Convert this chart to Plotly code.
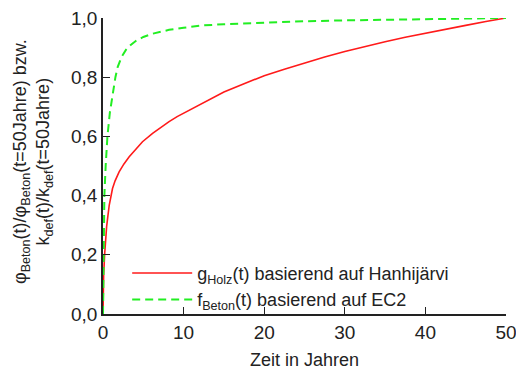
import plotly.graph_objects as go

# Holz (Hanhijärvi)
t_holz = [0, 0.01, 0.04, 0.08, 0.2, 0.3, 0.45, 0.6, 0.77, 1.18, 1.5, 2.0, 2.6, 3.25, 4.0, 4.9, 6.15, 7.1, 8.2, 9.2, 10.3,
          12.4, 15, 17.5, 20, 22.5, 25, 27.5, 30, 32.5, 35, 37.5, 40, 42.5, 45, 47.5, 50]
g_holz = [0, 0.05, 0.1, 0.13, 0.2, 0.25, 0.295, 0.33, 0.367, 0.424, 0.45, 0.48, 0.507, 0.531, 0.555, 0.582, 0.61, 0.63, 0.65, 0.667, 0.683,
          0.715, 0.75, 0.778, 0.805, 0.827, 0.848, 0.868, 0.887, 0.904, 0.92, 0.935, 0.949, 0.962, 0.975, 0.988, 1.0]

# Beton (EC2)
t_beton = [0, 0.03, 0.08, 0.17, 0.33, 0.55, 0.85, 1.24, 1.54, 1.83, 2.3, 2.86, 3.4, 4.1, 5, 6.15, 7, 8.2, 10, 12.4, 15, 17.5, 20, 25, 30, 35, 40, 45, 50]
f_beton = [0, 0.15, 0.27, 0.4, 0.5, 0.6, 0.68, 0.755, 0.8, 0.835, 0.868, 0.893, 0.908, 0.923, 0.936, 0.947, 0.953, 0.96, 0.967, 0.975, 0.979, 0.982, 0.985, 0.989, 0.992, 0.994, 0.996, 0.998, 1.0]

x_ticks = [0, 10, 20, 30, 40, 50]
y_ticks = [0.0, 0.2, 0.4, 0.6, 0.8, 1.0]

font = "Liberation Sans, Arial, sans-serif"

fig = go.Figure()
fig.add_trace(go.Scatter(x=t_holz, y=g_holz, mode="lines",
                         line=dict(color="#ff1a1a", width=1.6),
                         name="g<sub>Holz</sub>(t) basierend auf Hanhijärvi"))
fig.add_trace(go.Scatter(x=t_beton, y=f_beton, mode="lines",
                         line=dict(color="#22ee22", width=2, dash="8px,5px"),
                         name="f<sub>Beton</sub>(t) basierend auf EC2"))

fig.update_layout(
    width=516, height=371,
    margin=dict(l=103, r=10, t=18, b=57),
    paper_bgcolor="white", plot_bgcolor="white",
    separators=",.",
    font=dict(family=font, size=18, color="#222"),
    legend=dict(x=0.06, y=0.2, xanchor="left", yanchor="top", bgcolor="rgba(0,0,0,0)",
                font=dict(size=18), tracegroupgap=0, itemwidth=60),
    showlegend=True,
)
fig.update_xaxes(range=[0, 50], tickvals=x_ticks, ticks="inside", ticklen=7, tickwidth=1.3, tickcolor="#222",
                 showline=True, linecolor="#222", linewidth=1.5, showgrid=False, zeroline=False,
                 automargin=False, tickfont=dict(size=19), ticklabeloverflow="allow",
                 title=dict(text="Zeit in Jahren", font=dict(size=18), standoff=12))
fig.update_yaxes(range=[0, 1], tickvals=y_ticks, tickformat=".1f", ticks="inside", ticklen=7, tickwidth=1.3,
                 tickcolor="#222", showline=True, linecolor="#222", linewidth=1.5, showgrid=False, zeroline=False,
                 automargin=False, tickfont=dict(size=19), ticklabeloverflow="allow", title=dict(text=""))
fig.add_annotation(
    text="φ<sub>Beton</sub>(t)/φ<sub>Beton</sub>(t=50Jahre) bzw.<br>k<sub>def</sub>(t)/k<sub>def</sub>(t=50Jahre)",
    xref="paper", yref="paper", x=-0.175, y=0.515, xanchor="center", yanchor="middle",
    textangle=-90, showarrow=False, font=dict(size=18, color="#222"))
fig.write_html("out.html", config={"displayModeBar": False},
               post_script="document.body.style.margin='0';document.body.style.padding='0';")
